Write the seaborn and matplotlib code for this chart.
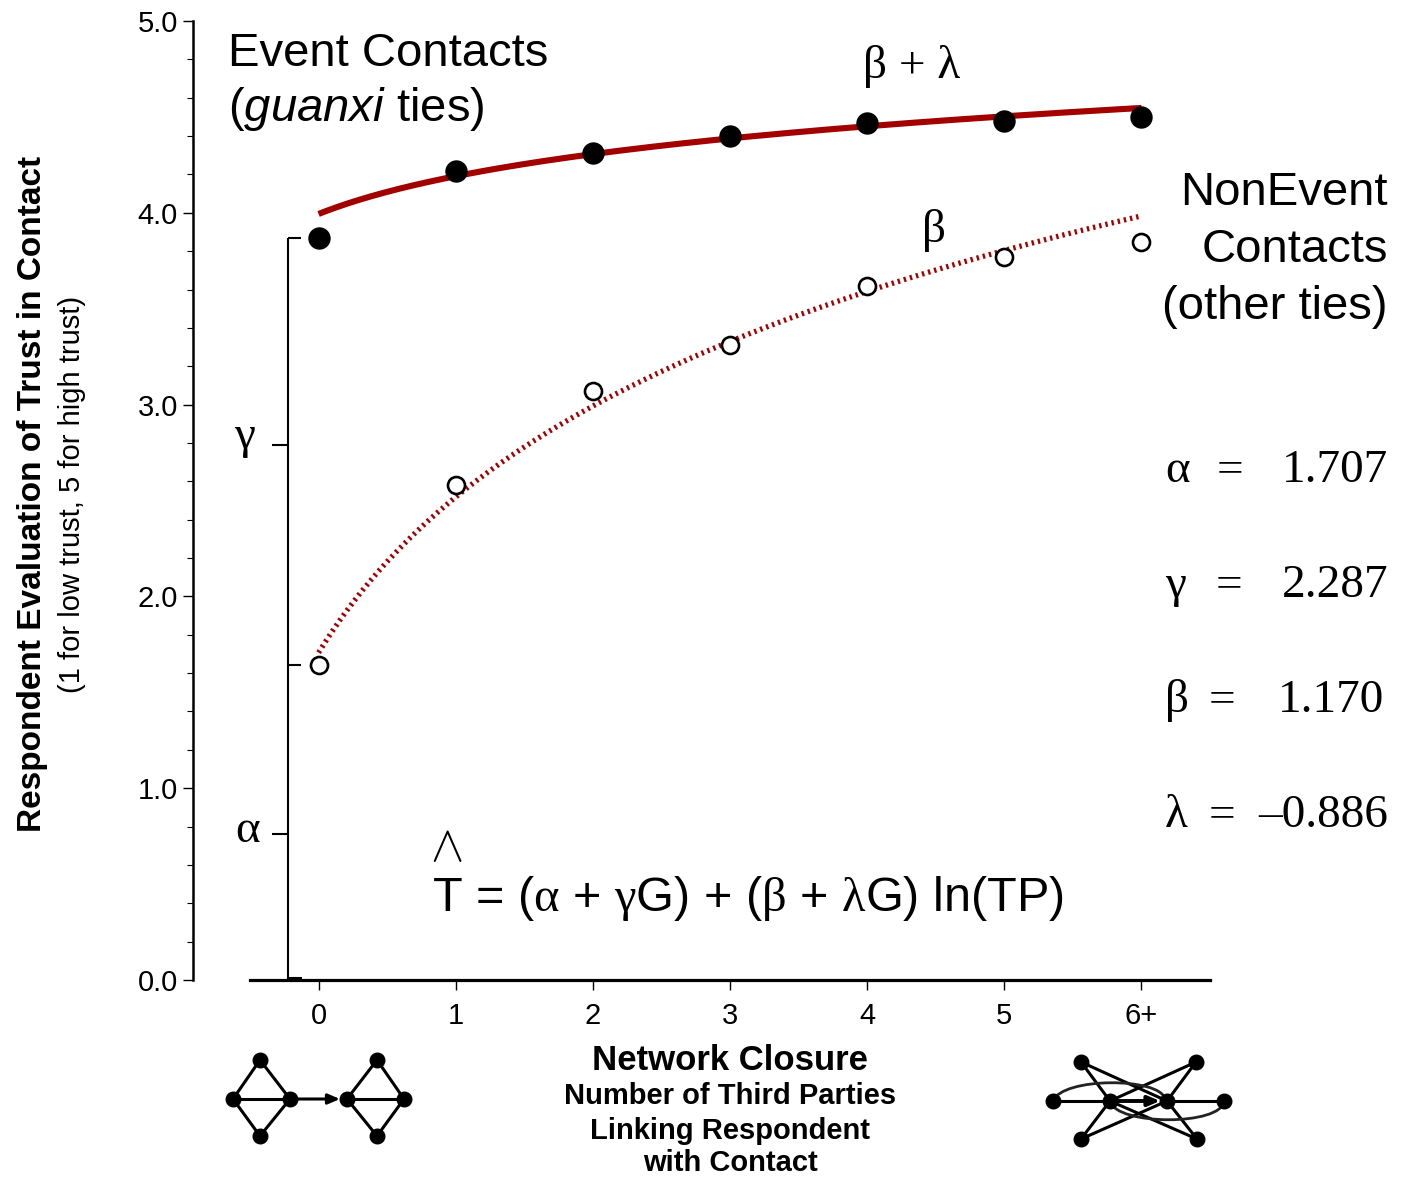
import numpy as np
import pandas as pd
import matplotlib
matplotlib.use("Agg")
import matplotlib.pyplot as plt
import seaborn as sns
from matplotlib.path import Path
from matplotlib.patches import PathPatch

# ---------------- data ----------------
closure = [0, 1, 2, 3, 4, 5, 6]
closure_labels = ["0", "1", "2", "3", "4", "5", "6+"]
event_trust = [3.87, 4.22, 4.31, 4.40, 4.47, 4.48, 4.50]
nonevent_trust = [1.64, 2.58, 3.07, 3.31, 3.62, 3.77, 3.85]

# fitted model coefficients printed on the chart
alpha_c, gamma_c, beta_c, lambda_c = 1.707, 2.287, 1.170, -0.886
param_names = ["α", "γ", "β", "λ"]
param_texts = ["1.707", "2.287", "1.170", "–0.886"]

RED = "#a30000"
W, H = 1414, 1178

sns.set_style("ticks")
plt.rcParams["font.family"] = ["Liberation Sans", "DejaVu Sans"]
plt.rcParams["mathtext.fontset"] = "custom"
plt.rcParams["mathtext.rm"] = "Liberation Serif"
plt.rcParams["mathtext.it"] = "Liberation Sans:italic"
plt.rcParams["mathtext.default"] = "rm"
plt.rcParams["mathtext.fallback"] = "cm"
for k in ["text.color", "axes.labelcolor", "xtick.color", "ytick.color", "axes.edgecolor"]:
    plt.rcParams[k] = "black"

fig = plt.figure(figsize=(W / 100, H / 100), dpi=100)
fig.patch.set_facecolor("white")
ax = fig.add_axes([250 / W, 1 - 980 / H, 960 / W, 959 / H])

# fitted curves from the printed model  T = (a + gG) + (b + lG) ln(TP)
xs = np.linspace(0, 6, 300)
fit = pd.DataFrame({
    "closure": xs,
    "event": (alpha_c + gamma_c) + (beta_c + lambda_c) * np.log(xs + 1),
    "nonevent": alpha_c + beta_c * np.log(xs + 1),
})
pts = pd.DataFrame({"closure": closure, "event": event_trust, "nonevent": nonevent_trust})

sns.lineplot(data=fit, x="closure", y="event", ax=ax, color=RED, linewidth=4.4,
             solid_capstyle="butt", zorder=3)
sns.lineplot(data=fit, x="closure", y="nonevent", ax=ax, color=RED, linewidth=3.8,
             linestyle=(0, (0.45, 0.75)), dash_capstyle="butt", zorder=3)
sns.scatterplot(data=pts, x="closure", y="event", ax=ax, s=260, color="black",
                edgecolor="black", linewidth=0, zorder=5)
sns.scatterplot(data=pts, x="closure", y="nonevent", ax=ax, s=150, facecolor="white",
                edgecolor="black", linewidth=1.9, zorder=5)

ax.set_xlim(-0.5, 6.5)
ax.set_ylim(0, 5)
ax.set_xlabel("")
ax.set_ylabel("")
for s in ["top", "right"]:
    ax.spines[s].set_visible(False)
ax.spines["left"].set_position(("outward", 41))
ax.spines["left"].set_linewidth(1.8)
ax.spines["bottom"].set_linewidth(2.3)
ax.set_xticks(closure)
ax.set_xticklabels(closure_labels)
ax.set_yticks(np.arange(0, 5.01, 1))
ax.set_yticklabels([f"{v:.1f}" for v in np.arange(0, 5.01, 1)])
ax.set_yticks(np.arange(0, 5.01, 0.2), minor=True)
ax.tick_params(axis="y", which="major", direction="out", length=7, width=1.0,
               labelsize=21, pad=4)
ax.tick_params(axis="y", which="minor", direction="out", length=4.5, width=0.8)
ax.tick_params(axis="x", which="major", direction="out", length=7, width=1.0,
               labelsize=21, pad=9)

# bracket showing alpha and gamma
xb, xr, xl = -0.226, -0.13, -0.34
top, mid = event_trust[0], nonevent_trust[0]
kw = dict(color="black", lw=1.5, clip_on=False, solid_capstyle="butt")
ax.plot([xb, xb], [0, top], **kw)
ax.plot([xb, xr], [top, top], **kw)
ax.plot([xb, xr], [mid, mid], **kw)
ax.plot([xb, xr + 0.01], [0.01, 0.01], **kw)
gam_tick = 2.79
alp_tick = 0.76
ax.plot([xl, xb], [gam_tick, gam_tick], **kw)
ax.plot([xl, xb], [alp_tick, alp_tick], **kw)

# ---------------- overlay in pixel coordinates ----------------
ov = fig.add_axes([0, 0, 1, 1])
ov.set_xlim(0, W)
ov.set_ylim(H, 0)
ov.axis("off")

serif = "Liberation Serif"
ov.text(245, 437, "γ", family=serif, fontsize=34, ha="center", va="center")
ov.text(248, 831, "α", family=serif, fontsize=34, ha="center", va="center")

ov.text(228, 66, "Event Contacts", fontsize=34, ha="left", va="baseline")
ov.text(228, 121, r"($\mathit{guanxi}$ ties)", fontsize=34, ha="left", va="baseline")
ov.text(912, 78, "β + λ", family=serif, fontsize=34, ha="center", va="baseline")
ov.text(934, 242, "β", family=serif, fontsize=34, ha="center", va="baseline")

for txt, yb in [("NonEvent", 205), ("Contacts", 262), ("(other ties)", 319)]:
    ov.text(1388, yb, txt, fontsize=34, ha="right", va="baseline")

eq_x = [1230, 1229, 1222, 1222]
num_x = [1388, 1388, 1384, 1388]
for i, yb in enumerate([482, 597, 712, 827]):
    ov.text(1165, yb, param_names[i], family=serif, fontsize=34, ha="left", va="baseline")
    ov.text(eq_x[i], yb, "=", family=serif, fontsize=34, ha="center", va="baseline")
    ov.text(num_x[i], yb, param_texts[i], family=serif, fontsize=34, ha="right", va="baseline")

ov.text(432, 911, r"T = ($\alpha$ + $\gamma$G) + ($\beta$ + $\lambda$G) ln(TP)",
        fontsize=35, ha="left", va="baseline")
ov.text(446, 871, r"$\wedge$", fontsize=36, ha="center", va="bottom")

# y-axis labels
ov.text(33, 494, "Respondent Evaluation of Trust in Contact", fontsize=24,
        fontweight="bold", rotation=90, ha="center", va="center")
ov.text(72, 494, "(1 for low trust, 5 for high trust)", fontsize=21,
        rotation=90, ha="center", va="center")

# x-axis labels
ov.text(730, 1070, "Network Closure", fontsize=25, fontweight="bold", ha="center", va="baseline")
for txt, yb in [("Number of Third Parties", 1104), ("Linking Respondent", 1139), ("with Contact", 1171)]:
    ov.text(730, yb, txt, fontsize=21, fontweight="bold", ha="center", va="baseline")

# ---------------- network diagrams ----------------
def draw_nodes(nodes):
    xsn = [p[0] for p in nodes.values()]
    ysn = [p[1] for p in nodes.values()]
    ov.scatter(xsn, ysn, s=110, color="black", zorder=6)

def draw_edges(nodes, edges, lw=2.2):
    for a, b in edges:
        ov.plot([nodes[a][0], nodes[b][0]], [nodes[a][1], nodes[b][1]],
                color="black", lw=lw, zorder=4)

diamond_edges = [("t", "l"), ("t", "r"), ("l", "r"), ("b", "l"), ("b", "r")]
d1 = {"t": (260, 1060), "l": (233, 1099), "r": (290, 1099), "b": (260, 1136)}
d2 = {"t": (377, 1060), "l": (347, 1099), "r": (404, 1099), "b": (377, 1136)}
for d in (d1, d2):
    draw_edges(d, diamond_edges)
    draw_nodes(d)
ov.annotate("", xy=(340, 1099), xytext=(290, 1099),
            arrowprops=dict(arrowstyle="-|>,head_length=0.7,head_width=0.3",
                            color="black", lw=2.2, shrinkA=0, shrinkB=0), zorder=4)

g = {"TL": (1081, 1062), "TR": (1196, 1062), "FL": (1053, 1101), "CL": (1110, 1101),
     "CR": (1167, 1101), "FR": (1224, 1101), "BL": (1081, 1139), "BR": (1197, 1139)}
g_edges = [("TL", "CL"), ("TL", "CR"), ("TR", "CL"), ("TR", "CR"), ("BL", "CL"),
           ("BL", "CR"), ("BR", "CL"), ("BR", "CR"), ("FL", "CL"), ("CR", "FR")]
draw_edges(g, g_edges)
up = Path([(1053, 1101), (1062, 1077), (1160, 1077), (1165, 1099)],
          [Path.MOVETO, Path.CURVE4, Path.CURVE4, Path.CURVE4])
lo = Path([(1110, 1101), (1116, 1126), (1222, 1126), (1224, 1101)],
          [Path.MOVETO, Path.CURVE4, Path.CURVE4, Path.CURVE4])
for p in (up, lo):
    ov.add_patch(PathPatch(p, facecolor="none", edgecolor="#222222", lw=2.0, zorder=4))
ov.annotate("", xy=(1160, 1101), xytext=(1110, 1101),
            arrowprops=dict(arrowstyle="-|>,head_length=0.7,head_width=0.3",
                            color="black", lw=2.8, shrinkA=0, shrinkB=0), zorder=5)
draw_nodes(g)

fig.savefig("out.png", dpi=100, facecolor="white")
